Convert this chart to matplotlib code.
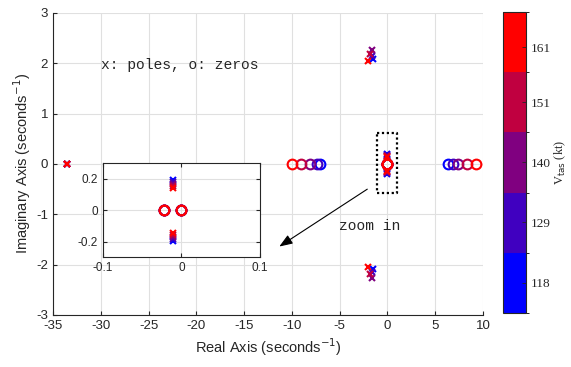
import matplotlib
matplotlib.use("Agg")
import matplotlib.pyplot as plt
import numpy as np
from matplotlib.colors import ListedColormap, BoundaryNorm
from matplotlib.colorbar import ColorbarBase

# ---- data ----
vtas = [118, 129, 140, 151, 161]
colors = ["#0000ff", "#4000c0", "#800080", "#c00040", "#ff0000"]

pole_far_re = [-33.5, -33.5, -33.5, -33.5, -33.5]
pole_far_im = [0.0, 0.0, 0.0, 0.0, 0.0]
pole_sp_re = [-1.50, -1.58, -1.65, -1.80, -2.00]
pole_sp_im = [2.08, 2.15, 2.26, 2.18, 2.05]
pole_ph_re = [-0.010, -0.010, -0.010, -0.010, -0.010]
pole_ph_im = [0.195, 0.182, 0.168, 0.155, 0.143]
zero_left = [-7.06, -7.40, -8.10, -9.08, -10.02]
zero_right = [6.37, 6.83, 7.41, 8.29, 9.27]
zero_origin_a = [-0.022, -0.022, -0.022, -0.022, -0.022]
zero_origin_b = [0.0, 0.0, 0.0, 0.0, 0.0]

xticks_main = [-35, -30, -25, -20, -15, -10, -5, 0, 5, 10]
yticks_main = [-3, -2, -1, 0, 1, 2, 3]
xticks_inset = [-0.1, 0, 0.1]
yticks_inset = [-0.2, 0, 0.2]
cbar_ticks = [118, 129, 140, 151, 161]
cbar_edges = [112.4, 123.4, 134.4, 145.5, 156.5, 167.5]

plt.rcParams["font.family"] = ["Liberation Sans", "DejaVu Sans"]

fig = plt.figure(figsize=(5.71, 3.67), dpi=100)
ax = fig.add_axes([0.0928, 0.1417, 0.7531, 0.8229])
ins = fig.add_axes([0.1799, 0.2989, 0.2754, 0.2561])
cax = fig.add_axes([0.8804, 0.1463, 0.0408, 0.8217])

def draw(a, xms, oms):
    for i in range(len(vtas)):
        c = colors[i]
        xs = [pole_far_re[i], pole_sp_re[i], pole_sp_re[i], pole_ph_re[i], pole_ph_re[i]]
        ys = [pole_far_im[i], pole_sp_im[i], -pole_sp_im[i], pole_ph_im[i], -pole_ph_im[i]]
        a.plot(xs, ys, linestyle="none", marker="x", color=c, ms=xms, mew=1.5, zorder=3)
        zx = [zero_left[i], zero_right[i], zero_origin_a[i], zero_origin_b[i]]
        zy = [0, 0, 0, 0]
        a.plot(zx, zy, linestyle="none", marker="o", mfc="none", mec=c, ms=oms, mew=1.5, zorder=3)

draw(ax, 5, 7)
draw(ins, 5, 7)

for a in (ax, ins):
    a.grid(True, color="#e0e0e0", linewidth=0.8)
    a.set_axisbelow(True)
    a.tick_params(direction="in", labelsize=9.5, length=3, width=0.8, colors="#262626", labelcolor="#262626")

ax.set_xlim(-35, 10)
ax.set_ylim(-3, 3)
ax.set_xticks(xticks_main)
ax.set_yticks(yticks_main)
ax.set_xticklabels([str(v) for v in xticks_main])
ax.set_yticklabels([str(v) for v in yticks_main])
ax.spines["top"].set_visible(False)
ax.spines["right"].set_visible(False)
for s in ("left", "bottom"):
    ax.spines[s].set_color("#262626")
    ax.spines[s].set_linewidth(0.8)
ax.set_xlabel("Real Axis (seconds$^{-1}$)", fontsize=10.5, color="#262626", labelpad=3)
ax.set_ylabel("Imaginary Axis (seconds$^{-1}$)", fontsize=10.5, color="#262626", labelpad=2)

ins.set_xlim(-0.1, 0.1)
ins.set_ylim(-0.3, 0.3)
ins.set_xticks(xticks_inset)
ins.set_yticks(yticks_inset)
ins.set_xticklabels(["-0.1", "0", "0.1"])
ins.set_yticklabels(["-0.2", "0", "0.2"])
ins.tick_params(labelsize=8.5, top=True, right=True)
for s in ins.spines.values():
    s.set_color("#262626")
    s.set_linewidth(0.8)

# annotations
ax.plot([-1.1, 1.0, 1.0, -1.1, -1.1], [0.62, 0.62, -0.58, -0.58, 0.62],
        linestyle=(0, (1, 1.2)), color="black", linewidth=1.6, zorder=4)
ax.annotate("", xy=(-11.32, -1.64), xytext=(-2.11, -0.50),
            arrowprops=dict(arrowstyle="-|>,head_length=0.8,head_width=0.3", color="black", lw=0.8, shrinkA=0, shrinkB=0))
ax.text(-5.05, -1.23, "zoom in", family=["Liberation Mono", "DejaVu Sans Mono"], fontsize=10.5,
        va="center", ha="left", color="#262626")
ax.text(-30.0, 1.97, "x: poles, o: zeros", family=["Liberation Mono", "DejaVu Sans Mono"], fontsize=10.5,
        va="center", ha="left", color="#262626")

# colorbar
cmap = ListedColormap(colors)
norm = BoundaryNorm(cbar_edges, cmap.N)
cb = ColorbarBase(cax, cmap=cmap, norm=norm, boundaries=cbar_edges, ticks=cbar_ticks, spacing="proportional")
cb.outline.set_linewidth(0.8)
cb.outline.set_edgecolor("#262626")
cax.tick_params(direction="in", length=3, width=0.6, labelsize=9.5, colors="#262626")
cax.set_yticklabels([str(v) for v in cbar_ticks], family=["Liberation Serif"])
cb.set_label(r"V$_{\rm tas}$ (kt)", family=["Liberation Serif"], fontsize=9, color="#262626", labelpad=1)
cax.yaxis.set_label_position("right")

fig.savefig("out.png", dpi=100)
